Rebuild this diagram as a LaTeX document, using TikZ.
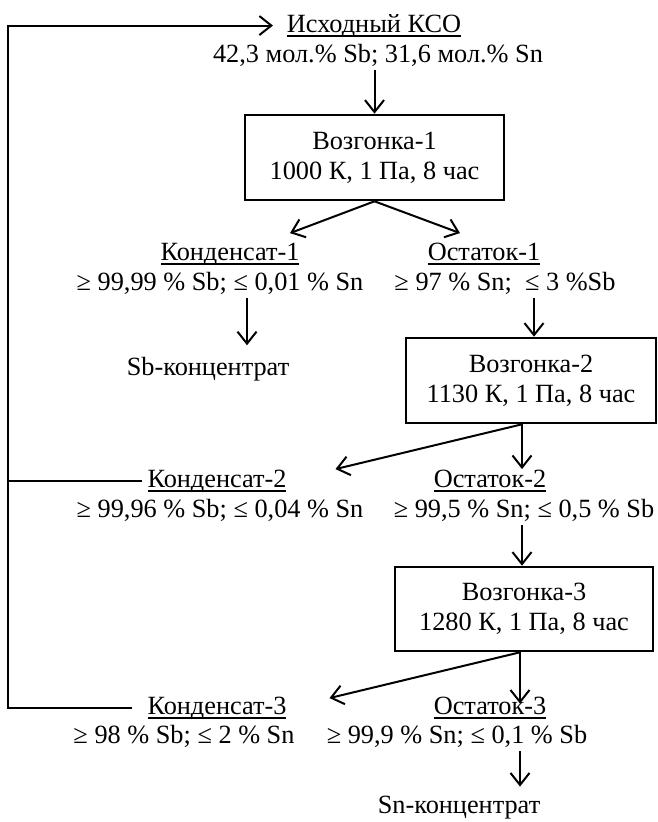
\documentclass[tikz,border=0pt]{standalone}
\usepackage{fontspec}
\setmainfont{Liberation Serif}
\usepackage{tikz}
\usetikzlibrary{arrows.meta,positioning}
\newcommand{\podch}[1]{\sbox0{#1}\rlap{\rule[-4.5pt]{\wd0}{1.2pt}}\usebox0}
\tikzset{
  strel/.style={-{Straight Barb[length=12pt,width=19pt]}},
  blok/.style={draw,line width=2.6pt,align=center,inner sep=0pt},
  zag/.style={anchor=base,inner xsep=5pt,inner ysep=2pt},
  txt/.style={anchor=base,inner sep=3pt},
}

\begin{document}
\begin{tikzpicture}[x=1pt,y=-1pt,line width=2pt,font={\fontsize{26.3pt}{30pt}\selectfont}]
  \useasboundingbox (0,0) rectangle (658,822);
  \node[zag] (isx) at (374,32) {\podch{Исходный КСО}};
  \node[txt] (isxs) at (378,62) {42,3 мол.\% Sb; 31,6 мол.\% Sn};
  \node[blok,minimum width=259pt,minimum height=85pt] (voz1) at (374.5,157.5) {Возгонка-1\\1000 К, 1 Па, 8 час};
  \node[zag] (kond1) at (230,260) {\podch{Конденсат-1}};
  \node[txt] (kond1s) at (220,290) {≥ 99,99 \% Sb; ≤ 0,01 \% Sn};
  \node[txt] (sbk) at (208,375) {Sb-концентрат};
  \node[zag] (ost1) at (484,260) {\podch{Остаток-1}};
  \node[txt] (ost1s) at (505,290) {≥ 97 \% Sn;\ \ ≤ 3 \%Sb};
  \node[blok,minimum width=250pt,minimum height=85pt] (voz2) at (531,380.5) {Возгонка-2\\1130 К, 1 Па, 8 час};
  \node[zag] (kond2) at (217,487) {\podch{Конденсат-2}};
  \node[txt] (kond2s) at (220,517) {≥ 99,96 \% Sb; ≤ 0,04 \% Sn};
  \node[zag] (ost2) at (490,487) {\podch{Остаток-2}};
  \node[txt] (ost2s) at (524,517) {≥ 99,5 \% Sn; ≤ 0,5 \% Sb};
  \node[blok,minimum width=258pt,minimum height=84pt] (voz3) at (524,609) {Возгонка-3\\1280 К, 1 Па, 8 час};
  \node[zag] (kond3) at (217,714) {\podch{Конденсат-3}};
  \node[txt] (kond3s) at (184,743) {≥ 98 \% Sb; ≤ 2 \% Sn};
  \node[zag] (ost3) at (490,714) {\podch{Остаток-3}};
  \node[txt] (ost3s) at (457,743) {≥ 99,9 \% Sn; ≤ 0,1 \% Sb};
  \node[txt] (snk) at (459,813) {Sn-концентрат};

  \coordinate (ugol) at (8,0);
  \draw[strel] ([xshift=-10pt]kond3.west) -| (ugol |- isx.west) -- ([xshift=-8pt]isx.west);
  \draw (kond2.west) -- (kond2.west -| ugol);
  \draw[strel] (isxs.south -| voz1.north) -- (voz1.north);
  \draw[strel] (voz1.south) -- ([xshift=60pt,yshift=6.5pt]kond1.north);
  \draw[strel] (voz1.south) -- ([xshift=-24pt,yshift=6.5pt]ost1.north);
  \draw[strel] ([xshift=27pt]kond1s.south) -- ([xshift=39pt,yshift=7.5pt]sbk.north);
  \draw[strel] ([xshift=29pt]ost1s.south) -- ([xshift=3pt]voz2.north);
  \draw[strel] ([xshift=-9pt]voz2.south) -- ([xshift=32pt,yshift=-2.5pt]ost2.north);
  \draw[strel] ([xshift=-9pt]voz2.south) -- ([xshift=43pt,yshift=-2.5pt]kond2.north east);
  \draw[strel] ([xshift=-2pt]ost2s.south) -- ([xshift=-2pt]voz3.north);
  \draw[strel] ([xshift=-4pt]voz3.south) -- ([xshift=30pt,yshift=-10pt]ost3.north);
  \draw[strel] ([xshift=-4pt]voz3.south) -- ([xshift=37pt,yshift=-4.5pt]kond3.north east);
  \draw[strel] ([xshift=63pt]ost3s.south) -- ([xshift=61pt,yshift=5pt]snk.north);
\end{tikzpicture}
\end{document}
